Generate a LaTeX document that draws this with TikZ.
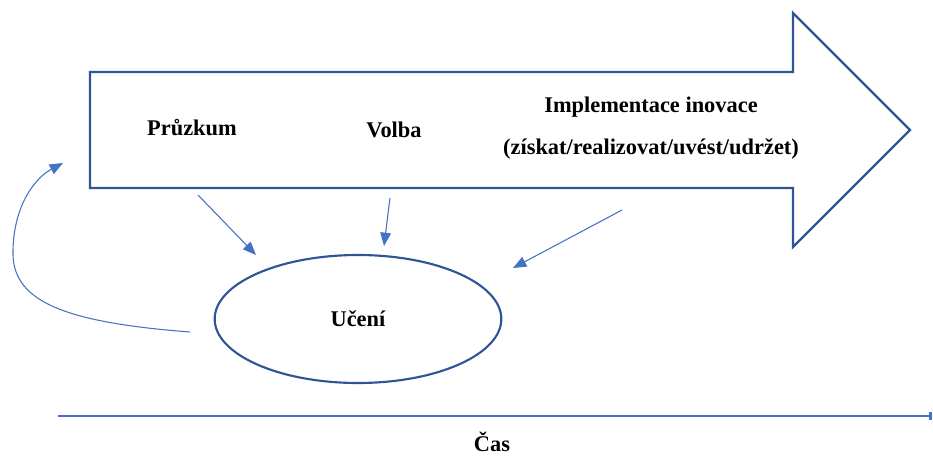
\documentclass[tikz,border=0pt]{standalone}
\usepackage{fontspec}
\setmainfont{Liberation Serif}
\usetikzlibrary{shapes.geometric,arrows.meta}
\definecolor{darkblue}{HTML}{2F5597}
\definecolor{lightblue}{HTML}{4472C4}

\begin{document}
\begin{tikzpicture}[x=0.75pt,y=-0.75pt,
    label/.style={font=\bfseries\fontsize{16.8}{20}\selectfont, text=black},
    phase/.style={draw=darkblue, line width=1.6pt, line join=miter},
    thinarrow/.style={draw=lightblue, line width=0.8pt, -{Triangle[length=10pt,width=8pt]}}
]
\useasboundingbox (0,0) rectangle (933,457);
\draw[phase] (90,72) -- (793,72) -- (793,13) -- (910,130) -- (793,247) -- (793,188) -- (90,188) -- cycle;
\node[label] (pruzkum) at (192,128) {Průzkum};
\node[label] (volba) at (394,130) {Volba};
\node[label, align=center] (impl) at (651,128) {Implementace inovace\\[12pt](získat/realizovat/uvést/udržet)};
\node[ellipse, draw=darkblue, line width=1.6pt, minimum width=215pt, minimum height=96pt, inner sep=0pt, label] (uceni) at (358,319) {Učení};
\coordinate (p1) at (198,195);
\coordinate (q1) at (256,255);
\coordinate (p2) at (390,198);
\coordinate (q2) at (384,246);
\coordinate (p3) at (622,210);
\coordinate (q3) at (513,268);
\coordinate (back) at (190,332);
\coordinate (start) at (63,163);
\draw[thinarrow] (p1) -- (q1);
\draw[thinarrow] (p2) -- (q2);
\draw[thinarrow] (p3) -- (q3);
\draw[thinarrow] (back) .. controls (60,322) and (11,300) .. (13,250) .. controls (14,205) and (35,178) .. (start);
% time axis
\coordinate (t0) at (58,416);
\coordinate (t1) at (932,416);
\draw[lightblue, line width=2pt, -{Bar[width=6pt]}] (t0) -- (t1);
\node[label] (cas) at (492,442) {Čas};
\end{tikzpicture}
\end{document}
